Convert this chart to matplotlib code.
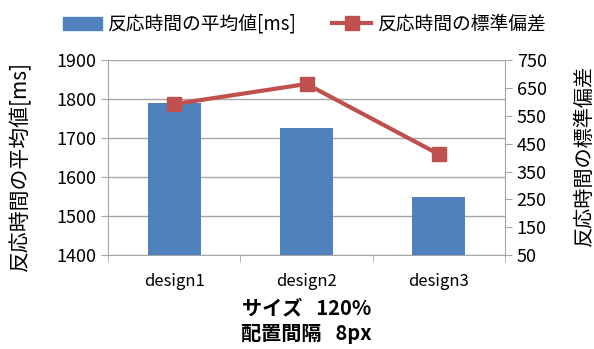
import numpy as np
import matplotlib.pyplot as plt
from matplotlib.lines import Line2D
from matplotlib.patches import Patch

plt.rcParams['font.family'] = ['Noto Sans CJK JP', 'DejaVu Sans']

categories = ['design1', 'design2', 'design3']
mean_ms = [1790, 1726, 1548]
std_ms = [592, 664, 412]

bar_color = '#4f81bd'
line_color = '#c0504d'
grid_color = '#a6a6a6'

fig = plt.figure(figsize=(5.94, 3.49), dpi=100)
ax = fig.add_axes([0.182, 0.269, 0.668, 0.559])
x = np.arange(len(categories))

ax.bar(x, mean_ms, width=0.4, color=bar_color, zorder=2)
ax.set_ylim(1400, 1900)
ax.set_yticks(range(1400, 1901, 100))
ax.set_xlim(-0.5, 2.5)
ax.set_xticks(x)
ax.set_xticklabels(categories, fontsize=12)
ax.set_xticks([-0.5, 0.5, 1.5, 2.5], minor=True)
ax.tick_params(axis='x', which='major', length=0, pad=13)
ax.tick_params(axis='x', which='minor', length=5, color=grid_color)
ax.tick_params(axis='y', length=5, color=grid_color, labelsize=13)
ax.grid(axis='y', color=grid_color, linewidth=1, zorder=0)
for s in ['top', 'right']:
    ax.spines[s].set_visible(False)
for s in ['left', 'bottom']:
    ax.spines[s].set_color(grid_color)
ax.set_ylabel('反応時間の平均値[ms]', fontsize=15)
ax.yaxis.set_label_coords(-0.194, 0.456)
ax.set_xlabel('サイズ   120%\n配置間隔   8px', fontsize=14.5, fontweight='bold',
              linespacing=1.3, labelpad=5)

ax2 = ax.twinx()
ax2.plot(x, std_ms, color=line_color, linewidth=3, marker='s', markersize=10, zorder=3)
ax2.set_ylim(50, 750)
ax2.set_yticks(range(50, 751, 100))
ax2.tick_params(axis='y', length=5, color=grid_color, labelsize=13)
for s in ['top', 'left', 'bottom']:
    ax2.spines[s].set_visible(False)
ax2.spines['right'].set_color(grid_color)
ax2.set_ylabel('反応時間の標準偏差', fontsize=14.5, rotation=90)
ax2.yaxis.set_label_coords(1.174, 0.51)

handles = [Patch(color=bar_color),
           Line2D([], [], color=line_color, linewidth=3, marker='s', markersize=10)]
labels = ['反応時間の平均値[ms]', '反応時間の標準偏差']
fig.legend(handles, labels, loc='center', bbox_to_anchor=(0.512, 0.93), ncol=2,
           frameon=False, fontsize=13.5, handlelength=2.1, columnspacing=1.9, handletextpad=0.3)

fig.savefig('out.png', dpi=100)
